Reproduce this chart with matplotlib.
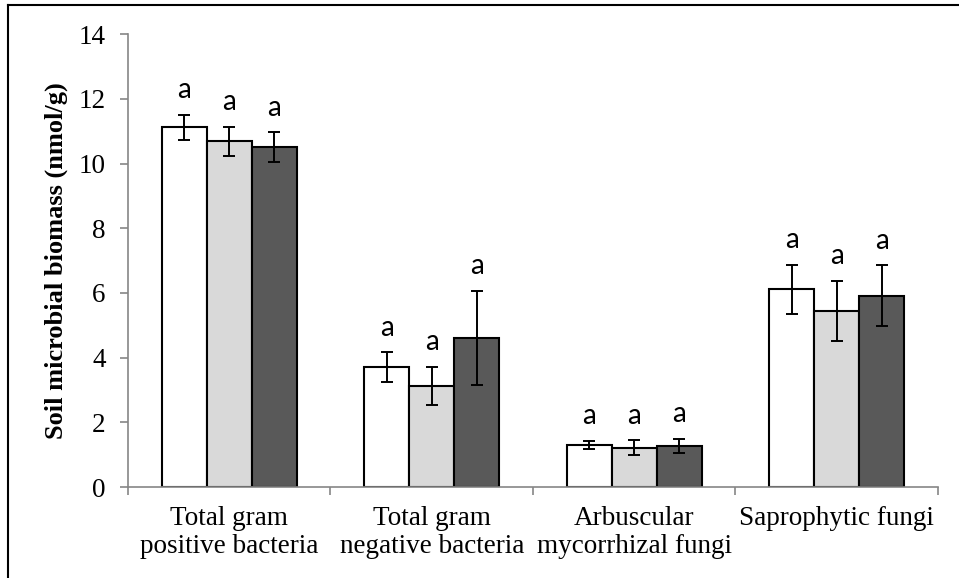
import matplotlib.pyplot as plt
from matplotlib.lines import Line2D
import numpy as np

# Categories and the three treatment series
categories = ["Total gram\npositive bacteria", "Total gram\nnegative bacteria",
              "Arbuscular\nmycorrhizal fungi", "Saprophytic fungi"]
series_1 = [11.12, 3.71, 1.31, 6.11]
series_2 = [10.69, 3.12, 1.22, 5.45]
series_3 = [10.51, 4.60, 1.27, 5.92]
err_1 = [0.38, 0.45, 0.12, 0.76]
err_2 = [0.45, 0.60, 0.22, 0.93]
err_3 = [0.45, 1.46, 0.21, 0.93]
letters = [["a", "a", "a", "a"], ["a", "a", "a", "a"], ["a", "a", "a", "a"]]

colors = ["#FFFFFF", "#D9D9D9", "#595959"]
serif = ["Liberation Serif", "DejaVu Serif"]

fig = plt.figure(figsize=(9.59, 5.78), dpi=100)
ax = fig.add_axes([0.1335, 0.1574, 0.8445, 0.7836])

x = np.arange(len(categories))
width = 0.222
values = [series_1, series_2, series_3]
errors = [err_1, err_2, err_3]

for i in range(3):
    pos = x + (i - 1) * width
    ax.bar(pos, values[i], width, color=colors[i], edgecolor="black", linewidth=1.5, zorder=2)
    ax.errorbar(pos, values[i], yerr=errors[i], fmt="none", ecolor="black",
                elinewidth=1.4, capsize=4, capthick=1.4, zorder=3)
    for j in range(len(categories)):
        ax.annotate(letters[i][j], (pos[j], values[i][j] + errors[i][j]),
                    xytext=(0, 12), textcoords="offset points", ha="center", va="baseline",
                    fontsize=20, family=["Lato", "DejaVu Sans"])

ax.set_xlim(-0.5, len(categories) - 0.5)
ax.set_ylim(0, 14)
ax.set_yticks(np.arange(0, 15, 2))
ax.set_xticks(x)
ax.set_xticklabels(categories, fontsize=19.5, family=serif, linespacing=1.15)
for lbl in ax.get_yticklabels():
    lbl.set_fontsize(19.5)
    lbl.set_family(serif)

# category separators as minor ticks on the x axis
ax.set_xticks(np.arange(-0.5, len(categories)), minor=True)
ax.tick_params(axis="x", which="major", length=0, pad=14)
ax.tick_params(axis="x", which="minor", length=6, width=1.2, color="#868686", direction="out")
ax.tick_params(axis="y", length=6, width=1.2, color="#868686", pad=10)

for side in ["top", "right"]:
    ax.spines[side].set_visible(False)
for side in ["left", "bottom"]:
    ax.spines[side].set_color("#868686")
    ax.spines[side].set_linewidth(1.2)

ax.set_ylabel("Soil microbial biomass (nmol/g)", fontsize=19, fontweight="bold", family=serif)
ax.yaxis.set_label_coords(-0.074, 0.5)

# outer frame lines
fig.add_artist(Line2D([8 / 959, 1], [1 - 5 / 578, 1 - 5 / 578], color="black", linewidth=1.5))
fig.add_artist(Line2D([8 / 959, 8 / 959], [0, 1 - 5 / 578], color="black", linewidth=1.5))

fig.savefig("out.png", dpi=100)
